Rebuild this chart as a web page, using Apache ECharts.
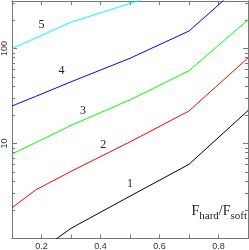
<!DOCTYPE html>
<html><head><meta charset="utf-8">
<script src="https://cdn.jsdelivr.net/npm/echarts@6/dist/echarts.min.js"></script>
<style>html,body{margin:0;padding:0;background:#fff}#c{width:249px;height:250px}</style>
</head><body><div id="c"></div>
<script>
// Data
const xs = [0.1, 0.18, 0.3, 0.5, 0.7, 0.9];
const curve1 = [0.46, 0.69, 1.28, 2.79, 6.04, 22.2];
const curve2 = [2.11, 3.24, 5.09, 10.4, 22.0, 79.6];
const curve3 = [7.75, 10.2, 15.5, 28.8, 58.4, 200];
const curve4 = [24.8, 31.3, 44.6, 78.9, 152.8, 540];
const curve5 = [100, 129, 189, 298, 470, 1500];
const curveNames = ['1', '2', '3', '4', '5'];
// label anchors (data units)
const labelX = [0.5, 0.409, 0.341, 0.268, 0.2];
const labelY = [3.75, 9.6, 22.2, 58, 177];
const xTickLabels = ['0.2', '0.4', '0.6', '0.8'];
const yTickLabels = [10, 100];
const yMajor = [1, 10, 100];
const yMinor = [2,3,4,5,6,7,8,9,20,30,40,50,60,70,80,90,200,300];

const curves = [curve1, curve2, curve3, curve4, curve5];
const colors = ['#000000', '#ff0000', '#00ff00', '#0000ff', '#00ffff'];
const axisCol = '#777';
const YMAX = Math.pow(10, 2.5);

const chart = echarts.init(document.getElementById('c'), null, {renderer: 'canvas'});
function yAx(pos, ticks, len, labels) {
  return {
    type: 'log', logBase: 10, min: 1, max: YMAX, position: pos,
    axisLine: {show: true, lineStyle: {color: axisCol, width: 1}},
    axisTick: {show: true, inside: true, length: len, customValues: ticks, lineStyle: {color: axisCol}},
    axisLabel: labels ? {show: true, customValues: yTickLabels, rotate: 90, margin: 3, fontSize: 9,
      color: '#333', fontFamily: 'Liberation Sans', formatter: v => String(Math.round(v))} : {show: false},
    splitLine: {show: false}, minorTick: {show: false}
  };
}
function xAx(pos, labels) {
  return {
    type: 'value', min: 0.1, max: 0.9, interval: 0.1, position: pos,
    axisLine: {show: true, onZero: false, lineStyle: {color: axisCol, width: 1}},
    axisTick: {show: true, inside: true, length: 4, lineStyle: {color: axisCol}},
    axisLabel: labels ? {show: true, margin: 4, fontSize: 9, color: '#333', fontFamily: 'Liberation Sans',
      formatter: v => { const s = v.toFixed(1); return xTickLabels.indexOf(s) >= 0 ? s : ''; }} : {show: false},
    splitLine: {show: false}
  };
}
const series = curves.map((c, i) => ({
  type: 'line', xAxisIndex: 0, yAxisIndex: 0,
  data: xs.map((x, j) => [x, c[j]]),
  showSymbol: false, symbol: 'none', clip: true,
  lineStyle: {color: colors[i], width: 1},
  silent: true, animation: false,
  markPoint: {
    symbol: 'circle', symbolSize: 1, itemStyle: {color: 'rgba(0,0,0,0)'},
    animation: false,
    label: {show: true, position: 'inside', formatter: curveNames[i], color: '#222',
      fontSize: 12, fontFamily: 'Liberation Serif'},
    data: [{coord: [labelX[i], labelY[i]]}]
  }
}));
chart.setOption({
  animation: false,
  backgroundColor: '#fff',
  grid: {left: 12, right: 1, top: 1, bottom: 11.5, containLabel: false, outerBoundsMode: 'none'},
  xAxis: [xAx('bottom', true), xAx('top', false)],
  yAxis: [yAx('left', yMajor, 5, true), yAx('right', yMajor, 5, false),
          yAx('left', yMinor, 3, false), yAx('right', yMinor, 3, false)],
  series: series,
  graphic: [{
    type: 'text', right: 2, top: 204,
    style: {
      text: '{F|F}{s|hard}{F|/F}{s|soft}',
      rich: {
        F: {fontSize: 14, fontFamily: 'Liberation Serif', fill: '#222', lineHeight: 21, verticalAlign: 'middle'},
        s: {fontSize: 11, fontFamily: 'Liberation Serif', fill: '#222', lineHeight: 21, verticalAlign: 'bottom'}
      }
    }
  }]
});
</script></body></html>
